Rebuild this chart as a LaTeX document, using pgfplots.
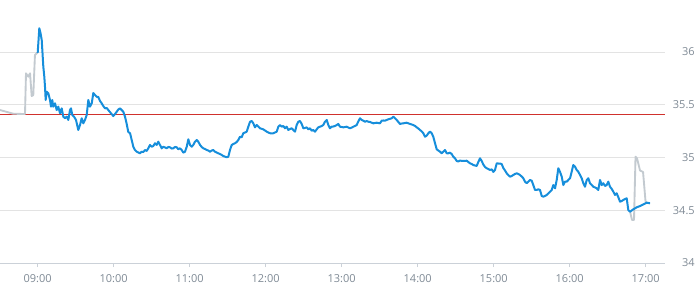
\documentclass[border=0pt]{standalone}
\usepackage{fontspec}
\setmainfont{Open Sans}
\usepackage{pgfplots}
\usepackage{pgfplotstable}
\pgfplotsset{compat=1.18}
\definecolor{lineblue}{HTML}{168EDB}
\definecolor{linegrey}{HTML}{C3CAD0}
\definecolor{closered}{HTML}{D0312D}
\definecolor{gridgrey}{HTML}{E3E3E3}
\definecolor{axisgrey}{HTML}{CBD1D8}
\definecolor{labelgrey}{HTML}{7F8A95}

\pgfplotstableread{
t v
8.504 35.450
8.679 35.415
8.833 35.412
8.846 35.798
8.876 35.766
8.899 35.798
8.921 35.583
8.942 35.592
8.964 35.972
8.987 35.988
9.000 35.991
}\premarket

\pgfplotstableread{
t v
16.794 34.486
16.820 34.408
16.846 34.408
16.866 35.008
16.886 34.991
16.925 34.877
16.965 34.863
16.997 34.588
17.011 34.569
}\postmarket

\pgfplotstableread{
t v
9.000 35.991
9.021 36.225
9.037 36.180
9.053 36.114
9.074 35.861
9.087 35.766
9.096 35.671
9.105 35.545
9.118 35.624
9.140 35.609
9.162 35.545
9.175 35.482
9.192 35.545
9.205 35.482
9.228 35.514
9.250 35.450
9.271 35.482
9.294 35.419
9.316 35.466
9.337 35.387
9.359 35.372
9.382 35.387
9.403 35.356
9.425 35.450
9.438 35.466
9.455 35.403
9.478 35.387
9.504 35.356
9.534 35.261
9.557 35.308
9.579 35.372
9.600 35.324
9.622 35.356
9.645 35.403
9.666 35.545
9.688 35.482
9.711 35.514
9.732 35.611
9.754 35.592
9.776 35.576
9.797 35.574
9.820 35.536
9.842 35.514
9.863 35.488
9.886 35.466
9.908 35.469
9.929 35.450
9.951 35.431
9.995 35.393
10.017 35.412
10.040 35.434
10.061 35.455
10.083 35.466
10.105 35.450
10.126 35.434
10.149 35.387
10.171 35.318
10.192 35.242
10.215 35.230
10.237 35.166
10.258 35.102
10.280 35.071
10.303 35.055
10.346 35.040
10.368 35.055
10.390 35.052
10.412 35.071
10.434 35.062
10.455 35.087
10.478 35.119
10.500 35.102
10.521 35.109
10.543 35.135
10.566 35.119
10.587 35.150
10.609 35.119
10.632 35.087
10.653 35.102
10.675 35.095
10.697 35.087
10.718 35.100
10.741 35.097
10.763 35.085
10.784 35.087
10.807 35.100
10.829 35.097
10.850 35.078
10.872 35.087
10.895 35.071
10.916 35.046
10.938 35.055
10.961 35.102
10.982 35.173
11.004 35.119
11.026 35.102
11.047 35.119
11.070 35.150
11.092 35.166
11.113 35.150
11.136 35.119
11.158 35.100
11.179 35.087
11.201 35.081
11.224 35.071
11.245 35.066
11.267 35.055
11.290 35.066
11.311 35.071
11.333 35.055
11.355 35.047
11.376 35.040
11.399 35.033
11.421 35.024
11.442 35.014
11.465 35.008
11.487 35.002
11.508 35.008
11.530 35.071
11.553 35.119
11.574 35.128
11.596 35.135
11.618 35.147
11.640 35.166
11.662 35.197
11.684 35.192
11.705 35.230
11.728 35.237
11.750 35.245
11.771 35.292
11.794 35.339
11.816 35.346
11.837 35.324
11.859 35.286
11.882 35.308
11.903 35.294
11.925 35.277
11.968 35.267
11.991 35.256
12.013 35.245
12.034 35.237
12.057 35.230
12.079 35.228
12.100 35.230
12.122 35.237
12.145 35.245
12.166 35.292
12.188 35.308
12.211 35.292
12.232 35.299
12.254 35.277
12.276 35.292
12.297 35.261
12.320 35.270
12.342 35.277
12.363 35.261
12.386 35.245
12.408 35.308
12.429 35.339
12.451 35.346
12.474 35.318
12.495 35.277
12.517 35.280
12.539 35.286
12.561 35.267
12.583 35.277
12.605 35.254
12.626 35.261
12.649 35.245
12.671 35.267
12.692 35.286
12.715 35.292
12.737 35.299
12.758 35.308
12.780 35.339
12.803 35.356
12.824 35.308
12.846 35.277
12.868 35.292
12.890 35.294
12.912 35.299
12.934 35.308
12.955 35.318
12.978 35.292
13.000 35.289
13.021 35.286
13.044 35.289
13.066 35.292
13.087 35.284
13.109 35.277
13.132 35.284
13.153 35.292
13.175 35.299
13.197 35.308
13.218 35.341
13.241 35.372
13.263 35.356
13.284 35.349
13.307 35.339
13.329 35.346
13.350 35.339
13.372 35.337
13.395 35.330
13.416 35.324
13.438 35.327
13.461 35.330
13.482 35.327
13.504 35.324
13.526 35.349
13.547 35.351
13.570 35.349
13.592 35.356
13.613 35.362
13.636 35.367
13.658 35.372
13.679 35.387
13.701 35.372
13.724 35.356
13.745 35.337
13.767 35.318
13.790 35.322
13.811 35.324
13.833 35.327
13.855 35.330
13.876 35.324
13.899 35.318
13.921 35.313
13.942 35.308
13.965 35.299
13.987 35.286
14.008 35.275
14.030 35.261
14.053 35.247
14.074 35.230
14.096 35.197
14.118 35.207
14.140 35.230
14.162 35.245
14.184 35.230
14.205 35.197
14.228 35.135
14.250 35.078
14.271 35.066
14.294 35.055
14.316 35.040
14.337 35.055
14.359 35.071
14.382 35.040
14.403 35.040
14.425 35.046
14.447 35.033
14.468 35.008
14.491 34.992
14.513 34.967
14.534 34.962
14.557 34.972
14.579 34.967
14.600 34.967
14.622 34.967
14.645 34.970
14.666 34.957
14.688 34.945
14.711 34.938
14.732 34.929
14.754 34.924
14.776 34.920
14.797 34.957
14.820 34.992
14.842 34.967
14.863 34.934
14.886 34.910
14.908 34.898
14.929 34.891
14.951 34.882
14.974 34.888
14.995 34.863
15.017 34.882
15.040 34.945
15.061 34.943
15.083 34.943
15.105 34.938
15.126 34.901
15.149 34.877
15.171 34.850
15.192 34.834
15.215 34.818
15.237 34.825
15.258 34.834
15.280 34.844
15.303 34.850
15.324 34.844
15.346 34.834
15.368 34.820
15.390 34.803
15.412 34.771
15.434 34.756
15.455 34.771
15.478 34.787
15.500 34.780
15.521 34.739
15.543 34.692
15.566 34.692
15.587 34.699
15.609 34.692
15.632 34.635
15.653 34.629
15.675 34.635
15.697 34.645
15.718 34.659
15.741 34.676
15.763 34.692
15.784 34.739
15.807 34.708
15.829 34.787
15.850 34.898
15.872 34.865
15.895 34.818
15.916 34.739
15.938 34.771
15.961 34.771
15.982 34.787
16.004 34.803
16.026 34.865
16.047 34.929
16.070 34.913
16.092 34.882
16.113 34.865
16.136 34.834
16.158 34.803
16.179 34.756
16.201 34.723
16.224 34.787
16.245 34.803
16.267 34.756
16.290 34.739
16.311 34.723
16.333 34.716
16.355 34.708
16.376 34.692
16.399 34.787
16.421 34.739
16.442 34.756
16.465 34.730
16.487 34.739
16.508 34.771
16.530 34.723
16.553 34.702
16.574 34.676
16.596 34.645
16.618 34.661
16.640 34.623
16.662 34.581
16.684 34.588
16.705 34.597
16.728 34.607
16.750 34.613
16.771 34.502
16.794 34.486
16.837 34.509
16.882 34.528
16.925 34.540
16.969 34.556
17.013 34.572
17.057 34.566
}\session

\begin{document}
\begin{tikzpicture}
\useasboundingbox (0,-27.75pt) rectangle (521.25pt,197.25pt);
\begin{axis}[
  at={(0,0)}, anchor=south west,
  scale only axis, width=498.75pt, height=197.81pt,
  xmin=8.504, xmax=17.254, ymin=34, ymax=36.5,
  axis x line*=bottom, axis y line*=right,
  x axis line style={draw=axisgrey, line width=0.75pt, -},
  y axis line style={draw=none},
  xtick={9,10,11,12,13,14,15,16,17},
  xticklabels={09:00,10:00,11:00,12:00,13:00,14:00,15:00,16:00,17:00},
  ytick={34,34.5,35,35.5,36},
  ymajorgrids, grid style={draw=gridgrey, line width=0.75pt},
  xtick align=outside, major tick length=3pt,
  xtick style={draw=axisgrey, line width=0.75pt},
  ytick style={draw=none},
  /pgf/number format/assume math mode=true,
  tick label style={font=\fontsize{8.25}{10}\selectfont, text=labelgrey},
  xticklabel style={anchor=north, inner sep=0pt, yshift=-5.5pt},
  yticklabel style={anchor=east, inner sep=0pt, xshift=22.5pt},
  clip=false,
]
\addplot[closered, line width=0.75pt] coordinates {(8.504,35.41) (17.254,35.41)};
\addplot[linegrey, line width=1.4pt, line join=round] table[x=t,y=v] {\premarket};
\addplot[linegrey, line width=1.4pt, line join=round] table[x=t,y=v] {\postmarket};
\addplot[lineblue, line width=1.5pt, line join=round] table[x=t,y=v] {\session};
\end{axis}
\end{tikzpicture}
\end{document}
